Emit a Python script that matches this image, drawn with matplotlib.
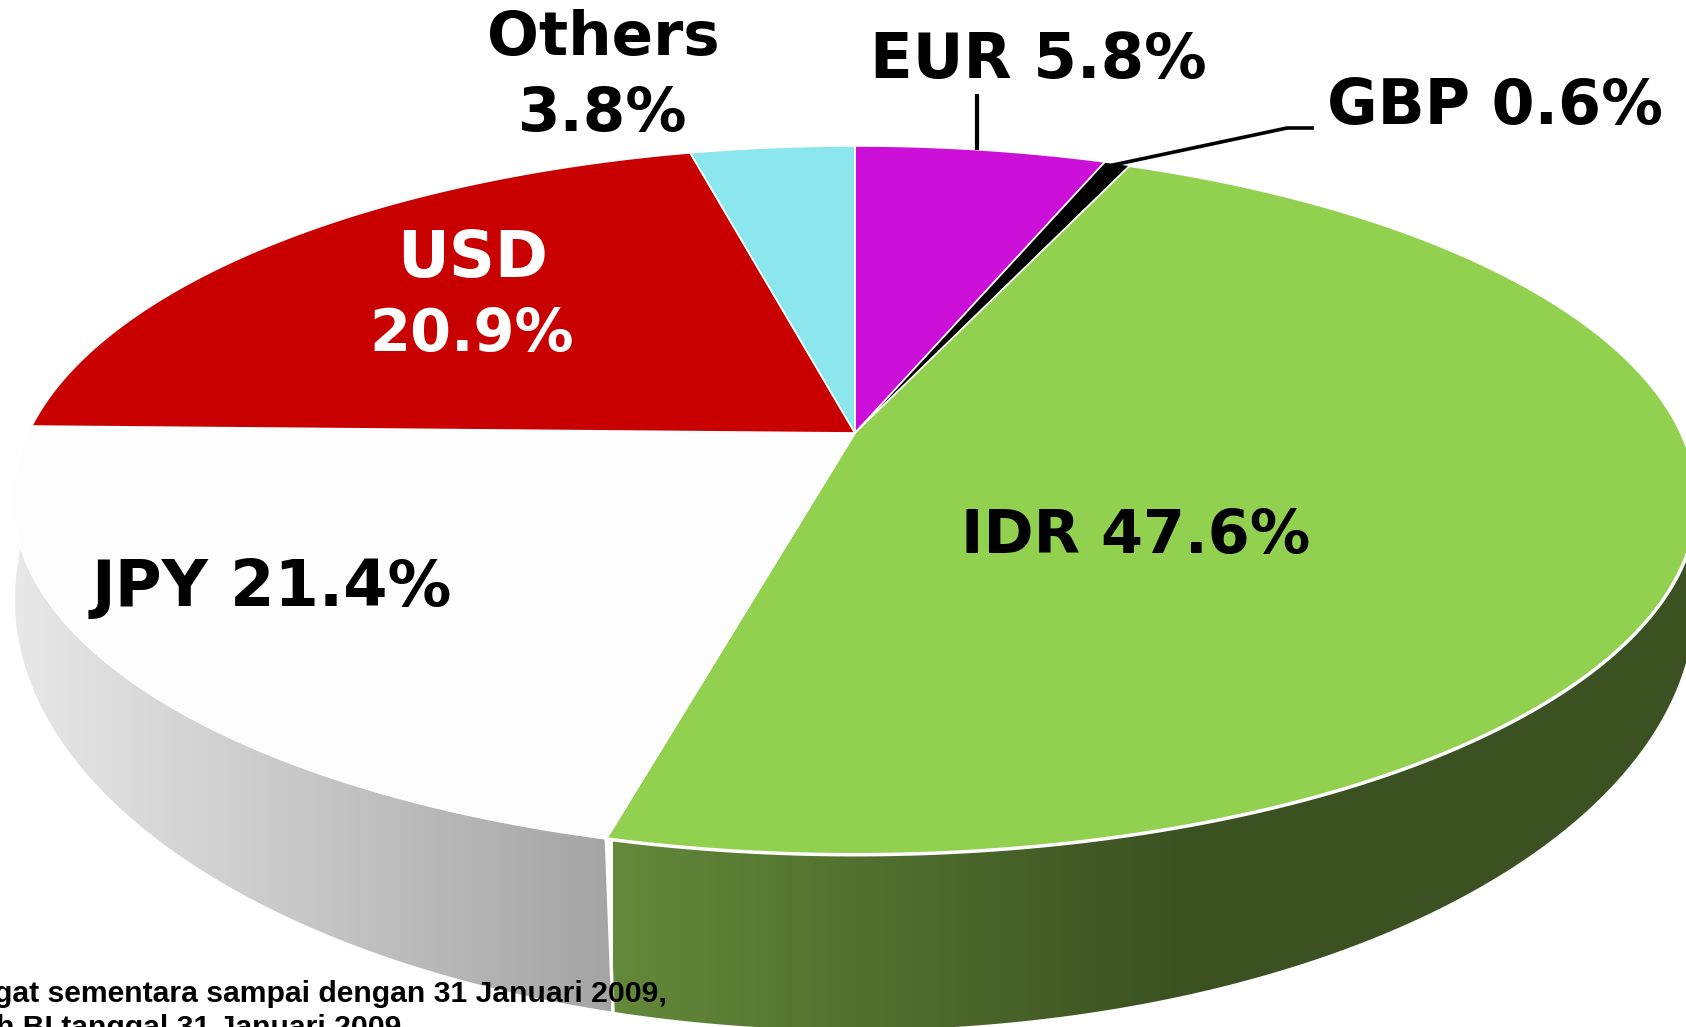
import numpy as np
import matplotlib
matplotlib.use("Agg")
import matplotlib.pyplot as plt
from matplotlib.patches import Polygon
from matplotlib.colors import LinearSegmentedColormap

# shares clockwise from 12 o'clock
names = ["EUR", "GBP", "IDR", "JPY", "USD", "Others"]
shares = [5.8, 0.6, 47.6, 21.4, 20.9, 3.8]
colors = ["#CC0FD8", "#000000", "#92D050", "#FDFDFD", "#C80000", "#8BE6EE"]

cx, cy = 855, 433
a, b, k = 826.6, 341.6, -0.19
# lower outline of the wall is its own ellipse
low_a, low_b, low_y = 840, 430, 600
split_x = 613


def rim(theta):
    # tilted circle -> screen, the near edge is drawn bigger
    u = np.sin(theta)
    v = -np.cos(theta)
    w = 1 + k * v
    return np.column_stack([cx + a * u / w, cy + b * v / w])


def low(t):
    # t = 0 is the lowest point, positive goes right
    return np.column_stack([cx + low_a * np.sin(t), low_y + low_b * np.cos(t)])


edges = np.radians(np.cumsum([0] + shares) * 360 / sum(shares))

fig = plt.figure(figsize=(16.86, 10.27), dpi=100)
ax = fig.add_axes([0, 0, 1, 1])

# side wall, two gradients
split = edges[3]
t_split = np.arcsin((split_x - cx) / low_a)
walls = [
    (np.linspace(edges[2], split, 200), np.linspace(t_split, 1.67, 200),
     ["#63893A", "#3B5121", "#3B5121"], (split_x, 1750)),
    (np.linspace(split, edges[4], 200), np.linspace(-1.67, t_split, 200),
     ["#E8E8E8", "#A4A4A4"], (15, split_x)),
]
for th, t, cols, (x0, x1) in walls:
    cmap = LinearSegmentedColormap.from_list("wall", cols)
    poly = Polygon(np.vstack([rim(th), low(t)]) if cols[0] == "#63893A"
                   else np.vstack([low(t), rim(th)]),
                   closed=True, fc="none", ec="none")
    ax.add_patch(poly)
    im = ax.imshow(np.linspace(0, 1, 256)[None, :], cmap=cmap, aspect="auto",
                   extent=(x0, x1, 1027, 0), zorder=1)
    im.set_clip_path(poly)
ax.set_xlim(0, 1686)
ax.set_ylim(1027, 0)
ax.axis("off")
p0 = rim(np.array([split]))[0]
ax.plot([p0[0], split_x], [p0[1], low(np.array([t_split]))[0, 1]], color="white", lw=2.5, zorder=2)

# top face
for i, name in enumerate(names):
    th = np.linspace(edges[i], edges[i + 1], 120)
    ax.add_patch(Polygon(np.vstack([[cx, cy], rim(th)]), closed=True, fc=colors[i],
                         ec="white", lw=1.2, zorder=3, joinstyle="round"))
th = np.linspace(edges[2], edges[3], 200)
ax.plot(*rim(th).T, color="white", lw=2.5, zorder=3.5)
ax.plot(*rim(np.linspace(edges[2], edges[2] + 1.2, 100)).T, color="white", lw=1.5, zorder=3.6)

# leader lines
ax.plot([977, 977], [94, 150], color="black", lw=3, zorder=4, solid_capstyle="butt")
ax.plot([1113, 1287, 1312], [165, 128, 128], color="black", lw=2.6, zorder=4)

big = dict(family="DejaVu Sans", fontweight="bold", ha="center", va="center", zorder=5)
ax.text(603, 39, "Others", fontsize=44, **big)
ax.text(603, 114, "3.8%", fontsize=44, **big)
ax.text(1038, 61, "EUR 5.8%", fontsize=45, **big)
ax.text(1495, 107, "GBP 0.6%", fontsize=44.5, **big)
ax.text(473, 259, "USD", color="white", fontsize=46, **big)
ax.text(472, 334, "20.9%", color="white", fontsize=42.5, **big)
ax.text(1136, 536, "IDR 47.6%", fontsize=43.5, **big)
ax.text(272, 588, "JPY 21.4%", fontsize=46, **big)

note = dict(family="Liberation Sans", fontweight="bold", fontsize=21.7, ha="right", va="center", zorder=6)
ax.text(667, 994, "gat sementara sampai dengan 31 Januari 2009,", **note)
ax.text(401, 1028, "h BI tanggal 31 Januari 2009", **note)

fig.savefig("out.png", dpi=100)
